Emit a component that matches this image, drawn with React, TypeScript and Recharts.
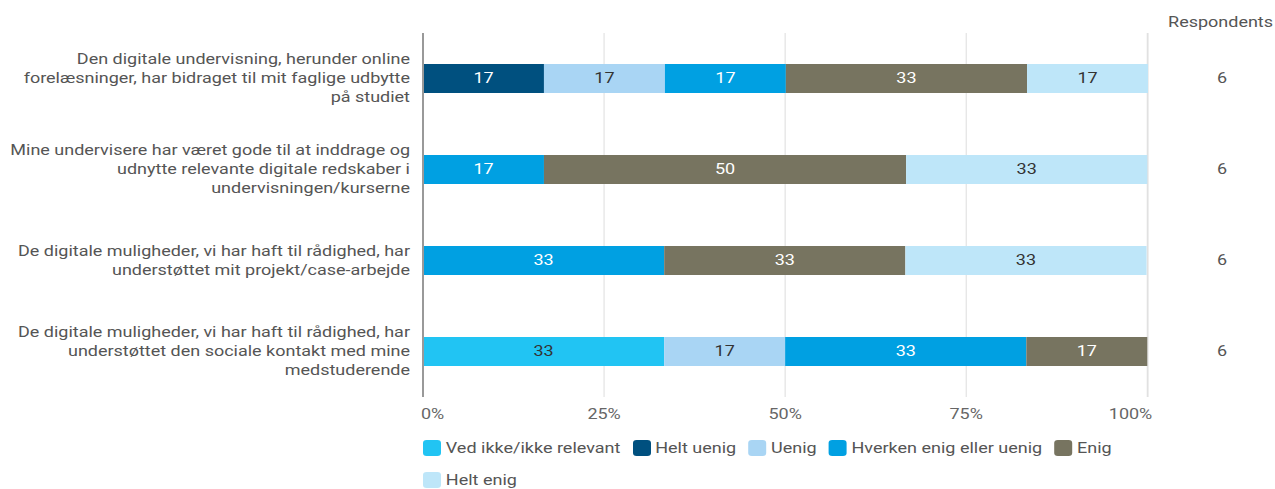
import { BarChart, Bar, XAxis, YAxis, CartesianGrid, LabelList } from 'recharts';

const questions = [
  'Den digitale undervisning, herunder online\nforelæsninger, har bidraget til mit faglige udbytte\npå studiet',
  'Mine undervisere har været gode til at inddrage og\nudnytte relevante digitale redskaber i\nundervisningen/kurserne',
  'De digitale muligheder, vi har haft til rådighed, har\nunderstøttet mit projekt/case-arbejde',
  'De digitale muligheder, vi har haft til rådighed, har\nunderstøttet den sociale kontakt med mine\nmedstuderende',
];
const respondents = [6, 6, 6, 6];

// percentages per answer, one value per question
const vedIkke = [0, 0, 0, 33.3];
const heltUenig = [16.7, 0, 0, 0];
const uenig = [16.7, 0, 0, 16.7];
const hverken = [16.7, 16.7, 33.3, 33.3];
const enig = [33.3, 50, 33.3, 16.7];
const heltEnig = [16.7, 33.3, 33.3, 0];

const xTicks = [0, 25, 50, 75, 100];

const series = [
  { key: 'vedIkke', name: 'Ved ikke/ikke relevant', color: '#21C4F3', text: '#333' },
  { key: 'heltUenig', name: 'Helt uenig', color: '#00507F', text: '#fff' },
  { key: 'uenig', name: 'Uenig', color: '#A9D5F4', text: '#333' },
  { key: 'hverken', name: 'Hverken enig eller uenig', color: '#00A0E2', text: '#fff' },
  { key: 'enig', name: 'Enig', color: '#777460', text: '#fff' },
  { key: 'heltEnig', name: 'Helt enig', color: '#BEE6F9', text: '#333' },
];

const data = questions.map((q, i) => ({
  name: q,
  respondents: String(respondents[i]),
  vedIkke: vedIkke[i],
  heltUenig: heltUenig[i],
  uenig: uenig[i],
  hverken: hverken[i],
  enig: enig[i],
  heltEnig: heltEnig[i],
}));

const FONT = 'Roboto, sans-serif';
const SX = 1.2; // reference text is drawn a little wide

// text stretched horizontally around its anchor point
function SText({ x, y, anchor = 'start', fill = '#555', size = 15, children, central }: any) {
  return (
    <text transform={`translate(${x},${y}) scale(${SX},1)`} x={0} y={0} textAnchor={anchor} fill={fill}
      fontSize={size} fontFamily={FONT} dominantBaseline={central ? 'central' : undefined}>
      {children}
    </text>
  );
}

function QuestionTick({ x, y, payload }: any) {
  const lines = String(payload.value).split('\n');
  const lh = 19;
  const start = y - ((lines.length - 1) * lh) / 2;
  return (
    <g>
      {lines.map((l, i) => (
        <SText key={i} x={x - 5} y={start + i * lh} anchor="end" central>{l}</SText>
      ))}
    </g>
  );
}

function RespTick({ x, y, payload }: any) {
  return <SText x={x + 66} y={y} anchor="middle" central>{payload.value}</SText>;
}

function PctTick({ x, y, payload, index }: any) {
  const anchor = index === 0 ? 'start' : index === xTicks.length - 1 ? 'end' : 'middle';
  const dx = index === xTicks.length - 1 ? 5 : index === 0 ? -2 : 0;
  return <SText x={x + dx} y={y + 20} anchor={anchor} fill="#666">{payload.value}%</SText>;
}

function makeLabel(color: string) {
  return (props: any) => {
    const { x, y, width, height, value } = props;
    if (!value) return null;
    return (
      <SText x={x + width / 2} y={y + height / 2} anchor="middle" fill={color} central>
        {Math.round(value)}
      </SText>
    );
  };
}

export default function App() {
  return (
    <div style={{ position: 'absolute', left: 0, top: 0, width: 1275, height: 489, background: '#fff', fontFamily: FONT }}>
      <BarChart width={1275} height={489} data={data} layout="vertical"
        margin={{ top: 33, right: 0, bottom: 62, left: 0 }} barSize={29}>
        <CartesianGrid horizontal={false} stroke="#ddd" />
        <XAxis type="number" domain={[0, 100]} ticks={xTicks} axisLine={false} tickLine={false}
          tickSize={0} height={30} tick={<PctTick />} interval={0} />
        <YAxis yAxisId="left" type="category" dataKey="name" width={423} tickLine={false}
          axisLine={{ stroke: '#999', strokeWidth: 2 }} tick={<QuestionTick />} interval={0} />
        <YAxis yAxisId="right" orientation="right" type="category" dataKey="respondents" width={127}
          axisLine={false} tickLine={false} tick={<RespTick />} interval={0}
          label={() => <SText x={1273} y={27} anchor="end">Respondents</SText>} />
        {series.map(s => (
          <Bar key={s.key} yAxisId="left" dataKey={s.key} name={s.name} stackId="a" fill={s.color}
            isAnimationActive={false}>
            <LabelList dataKey={s.key} content={makeLabel(s.text)} />
          </Bar>
        ))}
      </BarChart>
      <div style={{
        position: 'absolute', left: 423, top: 439, width: 610, display: 'flex', flexWrap: 'wrap',
        rowGap: 15, columnGap: 10, fontSize: 15, color: '#555', transform: `scaleX(${SX})`, transformOrigin: 'left top',
      }}>
        {series.map(s => (
          <div key={s.key} style={{ display: 'flex', alignItems: 'center', height: 17 }}>
            <span style={{ display: 'inline-block', width: 15, height: 16, borderRadius: 3, background: s.color, marginRight: 4 }} />
            <span>{s.name}</span>
          </div>
        ))}
      </div>
    </div>
  );
}
